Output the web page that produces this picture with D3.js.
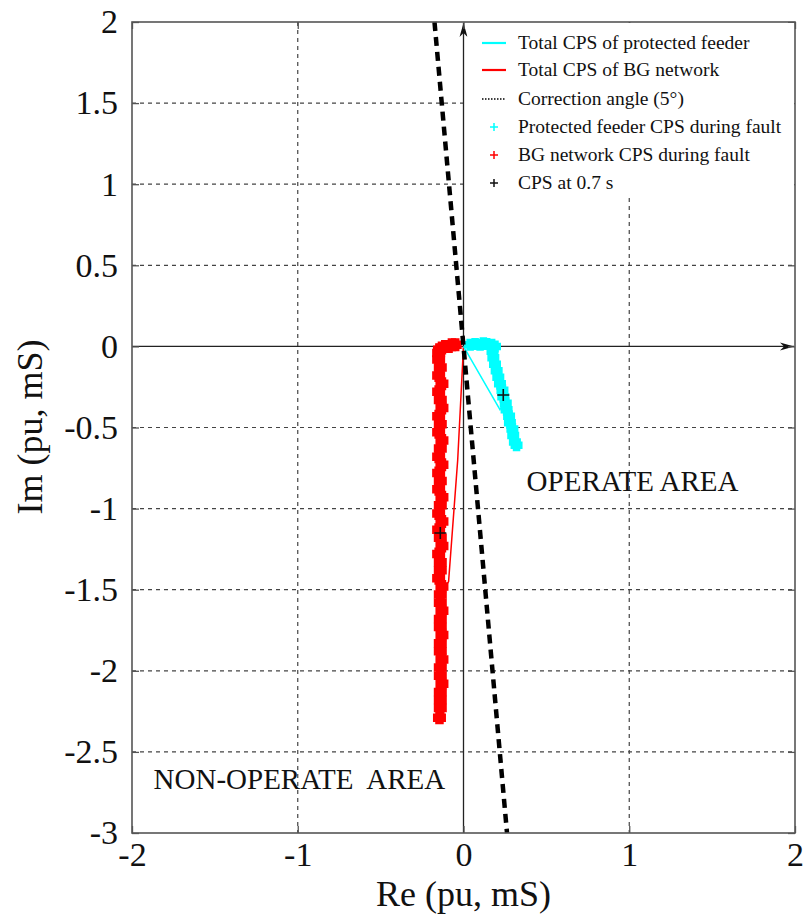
<!DOCTYPE html>
<meta charset="utf-8">
<body style="margin:0;background:#fff">
<div id="chart"></div>
<style>
body { font-family: 'Liberation Serif', 'Times New Roman', serif; }
.tick text { font-family: 'Liberation Serif', serif; fill: #111; }
.grid line { stroke: #444; stroke-width: 1.2; stroke-dasharray: 4,4; }
</style>
<script src="https://d3js.org/d3.v7.min.js"></script>
<script>
const width = 806, height = 922;
const margin = {top: 22, right: 11, bottom: 89, left: 132};

// ticks
const xTicks = [-2, -1, 0, 1, 2];
const yTicks = [2, 1.5, 1, 0.5, 0, -0.5, -1, -1.5, -2, -2.5, -3];

// total CPS of protected feeder (thin line)
const feederLineRe = [0, 0.22, 0.24];
const feederLineIm = [0, -0.39, -0.35];
// protected feeder CPS during fault (markers)
const feederRe = [0.04, 0.07, 0.10, 0.12, 0.14, 0.17, 0.19,
  0.175, 0.18, 0.19, 0.20, 0.21, 0.22, 0.235, 0.24, 0.255, 0.26, 0.275, 0.28, 0.295, 0.30, 0.31, 0.32];
const feederIm = [0.01, 0.015, 0.01, 0.02, 0.015, 0.01, 0.0,
  -0.03, -0.07, -0.11, -0.15, -0.19, -0.23, -0.27, -0.31, -0.35, -0.39, -0.43, -0.47, -0.51, -0.55, -0.59, -0.61];

// total CPS of BG network (thin line)
const bgLineRe = [0, -0.035, -0.09, -0.12];
const bgLineIm = [0, -0.7, -1.45, -1.5];
// BG network CPS during fault (markers)
const bgRe = [-0.05, -0.07, -0.09, -0.11, -0.13, -0.145, -0.15,
  -0.15, -0.14, -0.15, -0.13, -0.15, -0.14, -0.13, -0.15, -0.14, -0.15, -0.13, -0.14, -0.15, -0.13, -0.15,
  -0.14, -0.15, -0.13, -0.14, -0.15, -0.13, -0.15, -0.14, -0.13, -0.15, -0.14, -0.14, -0.15, -0.13, -0.14,
  -0.14, -0.13, -0.14, -0.14, -0.13, -0.14, -0.14, -0.13, -0.14, -0.14, -0.13, -0.14, -0.14, -0.14, -0.145];
const bgIm = [0.01, 0.01, 0.0, 0.0, -0.01, -0.02, -0.04,
  -0.08, -0.13, -0.18, -0.23, -0.28, -0.33, -0.38, -0.43, -0.48, -0.53, -0.58, -0.63, -0.68, -0.73, -0.78,
  -0.83, -0.88, -0.93, -0.98, -1.03, -1.08, -1.13, -1.18, -1.23, -1.28, -1.33, -1.38, -1.43, -1.48, -1.53,
  -1.58, -1.63, -1.68, -1.73, -1.78, -1.83, -1.88, -1.93, -1.98, -2.03, -2.08, -2.13, -2.18, -2.23, -2.29];

// CPS at 0.7 s
const cps07Re = [0.24, -0.14];
const cps07Im = [-0.30, -1.15];

// correction angle (5 deg) line end points
const corrRe = [-0.175, 0.2625];
const corrIm = [2, -3];

const legendLabels = ["Total CPS of protected feeder", "Total CPS of BG network", "Correction angle (5°)",
  "Protected feeder CPS during fault", "BG network CPS during fault", "CPS at 0.7 s"];

const CYAN = "#00ffff", RED = "#ff0000";

const svg = d3.select("#chart").append("svg")
  .attr("width", width).attr("height", height);

const x = d3.scaleLinear().domain([-2, 2]).range([margin.left, width - margin.right]);
const y = d3.scaleLinear().domain([-3, 2]).range([height - margin.bottom, margin.top]);

const zip = (a, b) => a.map((v, i) => [v, b[i]]);
const line = d3.line().x(d => x(d[0])).y(d => y(d[1]));
const plus = a => `M${-a},0H${a}M0,${-a}V${a}`;

// grid
const grid = svg.append("g").attr("class", "grid");
grid.selectAll(".h").data(yTicks.filter(d => d !== 0 && d !== 2 && d !== -3)).enter().append("line")
  .attr("x1", x(-2)).attr("x2", x(2)).attr("y1", d => y(d)).attr("y2", d => y(d));
grid.selectAll(".v").data(xTicks.filter(d => d !== 0 && Math.abs(d) !== 2)).enter().append("line")
  .attr("x1", d => x(d)).attr("x2", d => x(d)).attr("y1", y(2)).attr("y2", y(-3));

// arrow axes through origin
const defs = svg.append("defs");
defs.append("marker").attr("id", "arr").attr("viewBox", "0 0 14 10")
  .attr("refX", 14).attr("refY", 5).attr("markerWidth", 14).attr("markerHeight", 10)
  .attr("markerUnits", "userSpaceOnUse").attr("orient", "auto")
  .append("path").attr("d", "M0,1L14,5L0,9L4,5Z").attr("fill", "#111");

svg.append("line").attr("x1", x(-2)).attr("x2", x(2) - 1).attr("y1", y(0)).attr("y2", y(0))
  .attr("stroke", "#222").attr("stroke-width", 1.3).attr("marker-end", "url(#arr)");
svg.append("line").attr("x1", x(0)).attr("x2", x(0)).attr("y1", y(-3)).attr("y2", y(2) + 1)
  .attr("stroke", "#222").attr("stroke-width", 1.3).attr("marker-end", "url(#arr)");

// data
const data = svg.append("g");
data.append("path").attr("d", line(zip(bgLineRe, bgLineIm)))
  .attr("fill", "none").attr("stroke", RED).attr("stroke-width", 1.5);
data.append("path").attr("d", line(zip(feederLineRe, feederLineIm)))
  .attr("fill", "none").attr("stroke", CYAN).attr("stroke-width", 1.5);

data.selectAll(".bg").data(zip(bgRe, bgIm)).enter().append("path")
  .attr("transform", d => `translate(${x(d[0])},${y(d[1])})`)
  .attr("d", plus(6.5)).attr("stroke", RED).attr("stroke-width", 8.5).attr("fill", "none");
data.selectAll(".fd").data(zip(feederRe, feederIm)).enter().append("path")
  .attr("transform", d => `translate(${x(d[0])},${y(d[1])})`)
  .attr("d", plus(6)).attr("stroke", CYAN).attr("stroke-width", 7.5).attr("fill", "none");

// correction angle
svg.append("path").attr("d", line(zip(corrRe, corrIm)))
  .attr("fill", "none").attr("stroke", "#000").attr("stroke-width", 4.5)
  .attr("stroke-dasharray", "9,6");

data.selectAll(".c07").data(zip(cps07Re, cps07Im)).enter().append("path")
  .attr("transform", d => `translate(${x(d[0])},${y(d[1])})`)
  .attr("d", plus(6)).attr("stroke", "#111").attr("stroke-width", 1.6).attr("fill", "none");

// frame and ticks
const axColor = "#555";
function styleAxis(g) {
  g.select(".domain").remove();
  g.selectAll(".tick line").attr("stroke", axColor).attr("stroke-width", 1.3);
  g.selectAll(".tick text").attr("font-size", 34);
}
svg.append("g").attr("transform", `translate(0,${y(-3)})`)
  .call(d3.axisBottom(x).tickValues(xTicks).tickSize(-7).tickPadding(9).tickFormat(d => String(d)))
  .call(styleAxis);
svg.append("g").attr("transform", `translate(${x(-2)},0)`)
  .call(d3.axisLeft(y).tickValues(yTicks).tickSize(-7).tickPadding(14).tickFormat(d => String(d)))
  .call(styleAxis);
svg.append("g").attr("transform", `translate(0,${y(2)})`)
  .call(d3.axisTop(x).tickValues(xTicks).tickSize(-7).tickFormat(""))
  .call(styleAxis);
svg.append("g").attr("transform", `translate(${x(2)},0)`)
  .call(d3.axisRight(y).tickValues(yTicks).tickSize(-7).tickFormat(""))
  .call(styleAxis);

// legend
const lg = svg.append("g");
lg.append("rect").attr("x", x(0) + 4).attr("y", y(2) + 1).attr("width", x(2) - x(0) - 5).attr("height", 174)
  .attr("fill", "#fff");
const rowY = [43, 70, 99, 127, 155, 183];
const lx = 482, lx2 = 506;
lg.append("line").attr("x1", lx).attr("x2", lx2).attr("y1", rowY[0]).attr("y2", rowY[0])
  .attr("stroke", CYAN).attr("stroke-width", 2.2);
lg.append("line").attr("x1", lx).attr("x2", lx2).attr("y1", rowY[1]).attr("y2", rowY[1])
  .attr("stroke", RED).attr("stroke-width", 2.2);
lg.append("line").attr("x1", lx).attr("x2", lx2).attr("y1", rowY[2]).attr("y2", rowY[2])
  .attr("stroke", "#000").attr("stroke-width", 1.3).attr("stroke-dasharray", "1.5,1.5");
[CYAN, RED, "#111"].forEach((c, i) => {
  lg.append("path").attr("transform", `translate(${(lx + lx2) / 2},${rowY[3 + i]})`)
    .attr("d", plus(4)).attr("stroke", c).attr("stroke-width", 1.5).attr("fill", "none");
});
lg.selectAll("text").data(legendLabels).enter().append("text")
  .attr("x", 518).attr("y", (d, i) => rowY[i]).attr("dy", "0.33em")
  .attr("font-size", 19.5).attr("fill", "#111").text(d => d);

// plot frame
svg.append("rect").attr("x", x(-2)).attr("y", y(2)).attr("width", x(2) - x(-2)).attr("height", y(-3) - y(2))
  .attr("fill", "none").attr("stroke", axColor).attr("stroke-width", 1.6);

// area labels
svg.append("text").attr("x", x(1.02)).attr("y", 491).attr("text-anchor", "middle")
  .attr("font-size", 29).attr("fill", "#111").text("OPERATE AREA");
svg.append("text").attr("x", x(-0.99)).attr("y", 789).attr("text-anchor", "middle")
  .attr("font-size", 29).attr("fill", "#111").attr("xml:space", "preserve").text("NON-OPERATE  AREA");

// axis titles
svg.append("text").attr("x", x(0)).attr("y", 906).attr("text-anchor", "middle")
  .attr("font-size", 36).attr("fill", "#111").text("Re (pu, mS)");
svg.append("text").attr("transform", `translate(42,427) rotate(-90)`).attr("text-anchor", "middle")
  .attr("font-size", 36).attr("fill", "#111").text("Im (pu, mS)");
</script>
</body>
